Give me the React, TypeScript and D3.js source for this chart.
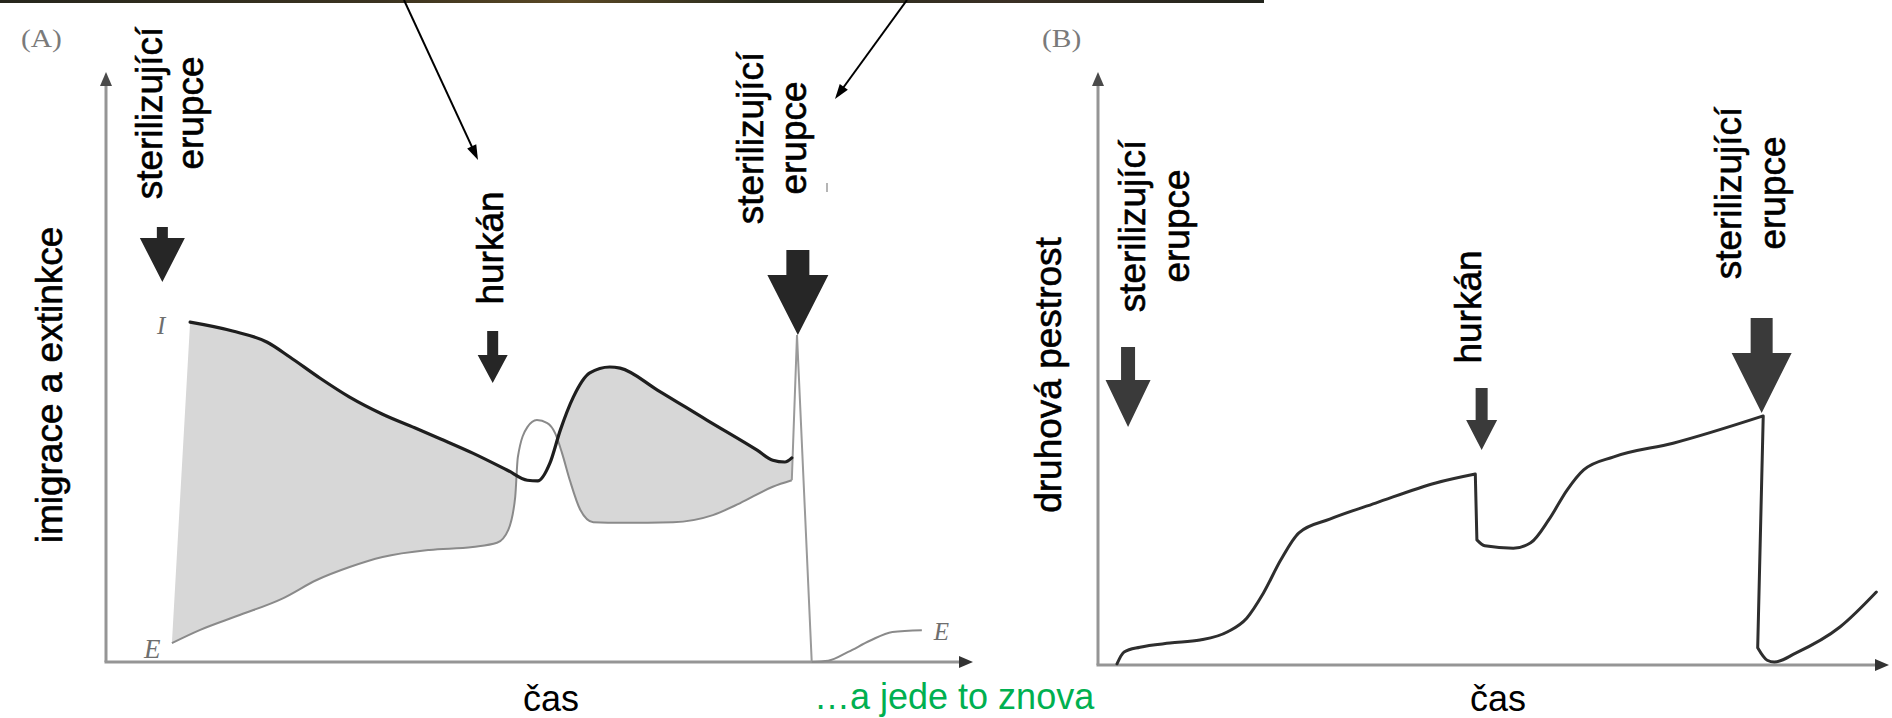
import React from "react";
import * as d3 from "d3";

// ---------- Panel A: immigration (I) and extinction (E) through time ----------
const immigrationTime = [9.7, 14.6, 18.6, 21.2, 24.7, 28.1, 31.9, 35.6, 38.6, 42.3, 46.3, 48.6, 49.8, 51.2, 52.4, 53.9, 55.8, 58.1, 59.3, 63.6, 69.3, 75.1, 76.9, 78.3, 79.1];
const immigrationRate = [57.6, 56.1, 54.2, 51.7, 48.1, 44.9, 42.0, 39.7, 37.8, 35.4, 32.5, 30.8, 30.7, 33.7, 39.3, 44.9, 49.0, 50.0, 49.8, 46.1, 41.0, 35.9, 34.2, 33.9, 34.6];

const extinctionTime = [7.6, 10.8, 15.5, 20.4, 24.3, 28.1, 31.9, 37.3, 42.3, 45.1, 46.4, 47.2, 47.5, 48.6, 49.7, 50.9, 51.8, 52.6, 53.5, 54.7, 56.2, 59.6, 65.4, 70.0, 73.1, 76.9, 79.1];
const extinctionRate = [3.2, 5.4, 8.0, 10.8, 13.9, 16.1, 17.8, 19.0, 19.5, 20.2, 22.4, 28.0, 34.7, 39.8, 41.0, 40.5, 38.8, 35.4, 30.8, 25.8, 23.7, 23.6, 23.7, 24.9, 26.9, 29.7, 30.8];

// spike at the second sterilising eruption
const eruptionTime = [79.1, 79.7, 81.4];
const eruptionRate = [30.8, 55.4, 0];

// extinction after the reset
const restartTime = [81.4, 83.3, 85.6, 88.1, 90.7, 94.1];
const restartRate = [0, 0.2, 1.7, 3.6, 5.1, 5.4];

// ---------- Panel B: species richness through time ----------
const richnessTime = [2.4, 3.3, 5.3, 9.1, 12.9, 16.4, 18.8, 20.9, 23.1, 25.4, 29.3, 35.1, 42.7, 47.7, 47.9, 48.9, 52.5, 54.7, 57.0, 59.3, 61.4, 65.2, 72.7, 84.1, 83.4, 84.6, 85.5, 88.2, 93.8, 98.4];
const richnessValue = [0.2, 2.2, 3.0, 3.7, 4.2, 5.6, 7.9, 12.1, 17.7, 22.3, 24.6, 27.3, 30.7, 32.2, 21.1, 20.1, 19.7, 20.6, 24.5, 29.5, 32.9, 35.1, 37.4, 42.0, 2.9, 0.8, 0.5, 2.0, 6.4, 12.3];

// ---------- disturbance events ----------
const eventLabels = [["sterilizující", "erupce"], ["hurkán"], ["sterilizující", "erupce"]];
const eventTimesA = [6.5, 44.6, 79.8];
const eventTimesB = [3.8, 48.5, 83.9];

const axisTitleA = "imigrace a extinkce";
const axisTitleB = "druhová pestrost";
const timeTitle = "čas";
const againNote = "…a jede to znova";

const SANS = "'Liberation Sans', Arial, Helvetica, sans-serif";
const SERIF = "'Liberation Serif', 'Times New Roman', serif";

type Pt = [number, number];
const zip = (ts: number[], vs: number[]): Pt[] => ts.map((t, i) => [t, vs[i]]);

// arrow geometry (shaft top, head top, tip, shaft width, head width)
const arrowShapeA = [
  { top: 227, head: 238, tip: 282, sw: 11, hw: 45 },
  { top: 331, head: 355, tip: 383, sw: 11, hw: 30 },
  { top: 250, head: 275, tip: 335, sw: 23, hw: 61 },
];
const arrowShapeB = [
  { top: 347, head: 380, tip: 427, sw: 14, hw: 45 },
  { top: 388, head: 420, tip: 450, sw: 12, hw: 31 },
  { top: 318, head: 353, tip: 413, sw: 22, hw: 60 },
];
// vertical label placement (baselines of each line, centre along the text)
const labelPlaceA = [
  { xs: [162, 203], y: 113 },
  { xs: [503], y: 248 },
  { xs: [763, 806], y: 138 },
];
const labelPlaceB = [
  { xs: [1145, 1189], y: 226 },
  { xs: [1481], y: 307 },
  { xs: [1741, 1785], y: 193 },
];

const TEXT_SIZE = 37;

function VText({ x, y, text, size = TEXT_SIZE, fill = "#000" }: { x: number; y: number; text: string; size?: number; fill?: string }) {
  return (
    <text
      transform={`translate(${x},${y}) rotate(-90)`}
      textAnchor="middle"
      fontFamily={SANS}
      fontSize={size}
      fill={fill}
      stroke={fill}
      strokeWidth={0.6}
    >
      {text}
    </text>
  );
}

function BlockArrow({ cx, s, fill }: { cx: number; s: { top: number; head: number; tip: number; sw: number; hw: number }; fill: string }) {
  const pts: Pt[] = [
    [cx - s.sw / 2, s.top],
    [cx + s.sw / 2, s.top],
    [cx + s.sw / 2, s.head],
    [cx + s.hw / 2, s.head],
    [cx, s.tip],
    [cx - s.hw / 2, s.head],
    [cx - s.sw / 2, s.head],
  ];
  return <polygon points={pts.map((p) => p.join(",")).join(" ")} fill={fill} />;
}

function Pointer({ from, to }: { from: Pt; to: Pt }) {
  const dx = to[0] - from[0];
  const dy = to[1] - from[1];
  const len = Math.hypot(dx, dy);
  const ux = dx / len;
  const uy = dy / len;
  const hl = 15;
  const hw = 5;
  const bx = to[0] - ux * hl;
  const by = to[1] - uy * hl;
  const head: Pt[] = [
    [to[0], to[1]],
    [bx - uy * hw, by + ux * hw],
    [bx + uy * hw, by - ux * hw],
  ];
  return (
    <g>
      <line x1={from[0]} y1={from[1]} x2={bx + ux * 2} y2={by + uy * 2} stroke="#000" strokeWidth={2} />
      <polygon points={head.map((p) => p.join(",")).join(" ")} fill="#000" />
    </g>
  );
}

// smooth stretches joined by straight near-vertical drops
function piecewisePath(pts: Pt[], smooth: d3.Line<Pt>, straight: d3.Line<Pt>): string {
  const parts: string[] = [];
  let run: Pt[] = [pts[0]];
  for (let i = 1; i < pts.length; i++) {
    const a = pts[i - 1];
    const b = pts[i];
    const dt = b[0] - a[0];
    const steep = dt <= 0 || Math.abs((b[1] - a[1]) / dt) > 20;
    if (steep) {
      if (run.length > 1) parts.push(smooth(run) || "");
      parts.push(straight([a, b]) || "");
      run = [b];
    } else {
      run.push(b);
    }
  }
  if (run.length > 1) parts.push(smooth(run) || "");
  return parts.map((p, i) => (i === 0 ? p : p.replace(/^M/, "L"))).join("");
}

export default function App() {
  const W = 1892;
  const H = 718;

  const xA = d3.scaleLinear().domain([0, 100]).range([106, 973]);
  const yA = d3.scaleLinear().domain([0, 100]).range([662, 72]);
  const xB = d3.scaleLinear().domain([0, 100]).range([1098, 1889]);
  const yB = d3.scaleLinear().domain([0, 100]).range([665, 72]);

  const lineA = d3
    .line<Pt>()
    .x((d) => xA(d[0]))
    .y((d) => yA(d[1]))
    .curve(d3.curveMonotoneX);
  const straightA = d3
    .line<Pt>()
    .x((d) => xA(d[0]))
    .y((d) => yA(d[1]));
  const smoothB = d3
    .line<Pt>()
    .x((d) => xB(d[0]))
    .y((d) => yB(d[1]))
    .curve(d3.curveMonotoneX);
  const straightB = d3
    .line<Pt>()
    .x((d) => xB(d[0]))
    .y((d) => yB(d[1]));

  const imm = zip(immigrationTime, immigrationRate);
  const ext = zip(extinctionTime, extinctionRate);
  const dImm = lineA(imm) || "";
  const dExt = lineA(ext) || "";
  const dExtRev = lineA(ext.slice().reverse()) || "";

  // band between the two rates
  const bandPath = dImm + dExtRev.replace(/^M/, "L") + "Z";
  // only where immigration lies above extinction
  const e0 = ext[0];
  const e1 = ext[ext.length - 1];
  const aboveExt =
    `M0,${yA(e0[1])}` +
    dExt.replace(/^M/, "L") +
    `L${W},${yA(e1[1])}L${W},0L0,0Z`;

  const dEruption = straightA(zip(eruptionTime, eruptionRate)) || "";
  const dRestart = lineA(zip(restartTime, restartRate)) || "";
  const dRich = piecewisePath(zip(richnessTime, richnessValue), smoothB, straightB);

  const axisCol = "#959595";
  const headCol = "#4a4a4a";

  const [ax0, ax1] = xA.range();
  const [ay0, ay1] = yA.range();
  const [bx0, bx1] = xB.range();
  const [by0, by1] = yB.range();

  return (
    <svg
      width={W}
      height={H}
      viewBox={`0 0 ${W} ${H}`}
      style={{ position: "absolute", left: 0, top: 0, display: "block", background: "#fff" }}
    >
      <defs>
        <clipPath id="above-extinction">
          <path d={aboveExt} />
        </clipPath>
        <linearGradient id="top-strip" x1="0" x2="1" y1="0" y2="0">
          <stop offset="0" stopColor="#26261c" />
          <stop offset="0.3" stopColor="#3b3320" />
          <stop offset="0.45" stopColor="#5a4824" />
          <stop offset="0.6" stopColor="#2a2c1e" />
          <stop offset="0.8" stopColor="#3a3024" />
          <stop offset="1" stopColor="#22241c" />
        </linearGradient>
      </defs>
      <rect x={0} y={0} width={W} height={H} fill="#fff" />
      <rect x={0} y={0} width={1264} height={3} fill="url(#top-strip)" />

      {/* ---------------- Panel A ---------------- */}
      <text x={0} y={0} fontFamily={SERIF} fontSize={25} fill="#7a7a7a" transform="translate(21,47) scale(1.18,1)">
        (A)
      </text>

      {/* axes */}
      <line x1={ax0} y1={ay0} x2={ax0} y2={ay1 + 12} stroke={axisCol} strokeWidth={3} />
      <polygon points={`${ax0},${ay1} ${ax0 - 6},${ay1 + 14} ${ax0 + 6},${ay1 + 14}`} fill={headCol} />
      <line x1={ax0 - 1.5} y1={ay0} x2={ax1 - 12} y2={ay0} stroke={axisCol} strokeWidth={3} />
      <polygon points={`${ax1},${ay0} ${ax1 - 14},${ay0 - 6} ${ax1 - 14},${ay0 + 6}`} fill="#333" />

      {/* shaded band */}
      <path d={bandPath} fill="#d7d7d7" clipPath="url(#above-extinction)" />
      <path d={dExt} fill="none" stroke="#8a8a8a" strokeWidth={2} />
      <path d={dEruption} fill="none" stroke="#9a9a9a" strokeWidth={2} />
      <path d={dRestart} fill="none" stroke="#8a8a8a" strokeWidth={2} />
      <path d={dImm} fill="none" stroke="#1e1e1e" strokeWidth={3.2} strokeLinecap="round" strokeLinejoin="round" />

      {/* curve labels */}
      <text x={xA(immigrationTime[0]) - 33} y={334} fontFamily={SERIF} fontStyle="italic" fontSize={25} fill="#6e6e6e">
        I
      </text>
      <text x={xA(extinctionTime[0]) - 28} y={658} fontFamily={SERIF} fontStyle="italic" fontSize={27} fill="#6e6e6e">
        E
      </text>
      <text x={xA(restartTime[restartTime.length - 1]) + 12} y={640} fontFamily={SERIF} fontStyle="italic" fontSize={25} fill="#6e6e6e">
        E
      </text>

      {/* events */}
      {eventTimesA.map((t, i) => (
        <g key={`ea${i}`}>
          <BlockArrow cx={xA(t)} s={arrowShapeA[i]} fill="#262626" />
          {eventLabels[i].map((ln, j) => (
            <VText key={j} x={labelPlaceA[i].xs[j]} y={labelPlaceA[i].y} text={ln} />
          ))}
        </g>
      ))}
      <rect x={826} y={183} width={2} height={9} fill="#b5b5b5" />

      <VText x={62} y={385} text={axisTitleA} />
      <text x={551} y={711} textAnchor="middle" fontFamily={SANS} fontSize={36} fill="#000">
        {timeTitle}
      </text>
      <text x={814} y={709} fontFamily={SANS} fontSize={36} fill="#00b050">
        {againNote}
      </text>

      {/* pointers from the top */}
      <Pointer from={[404, 0]} to={[478, 160]} />
      <Pointer from={[907, 0]} to={[835, 99]} />

      {/* ---------------- Panel B ---------------- */}
      <text x={0} y={0} fontFamily={SERIF} fontSize={25} fill="#7a7a7a" transform="translate(1042,47) scale(1.18,1)">
        (B)
      </text>
      <line x1={bx0} y1={by0} x2={bx0} y2={by1 + 12} stroke={axisCol} strokeWidth={3} />
      <polygon points={`${bx0},${by1} ${bx0 - 6},${by1 + 14} ${bx0 + 6},${by1 + 14}`} fill={headCol} />
      <line x1={bx0 - 1.5} y1={by0} x2={bx1 - 12} y2={by0} stroke={axisCol} strokeWidth={3} />
      <polygon points={`${bx1},${by0} ${bx1 - 14},${by0 - 6} ${bx1 - 14},${by0 + 6}`} fill="#333" />

      <path d={dRich} fill="none" stroke="#2e2e2e" strokeWidth={3} strokeLinejoin="round" strokeLinecap="round" />

      {eventTimesB.map((t, i) => (
        <g key={`eb${i}`}>
          <BlockArrow cx={xB(t)} s={arrowShapeB[i]} fill="#3a3a3a" />
          {eventLabels[i].map((ln, j) => (
            <VText key={j} x={labelPlaceB[i].xs[j]} y={labelPlaceB[i].y} text={ln} />
          ))}
        </g>
      ))}

      <VText x={1061} y={375} text={axisTitleB} />
      <text x={1498} y={711} textAnchor="middle" fontFamily={SANS} fontSize={36} fill="#000">
        {timeTitle}
      </text>
    </svg>
  );
}
